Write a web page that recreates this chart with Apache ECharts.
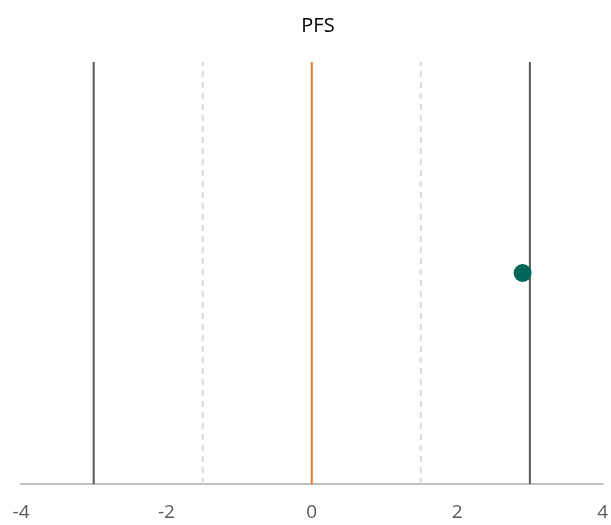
<!DOCTYPE html>
<html><head><meta charset="utf-8">
<script src="https://cdn.jsdelivr.net/npm/echarts@6/dist/echarts.min.js"></script>
<style>html,body{margin:0;padding:0;background:#fff}#c{width:611px;height:525px}</style>
</head><body><div id="c"></div>
<script>
const title = 'PFS';
const xTicks = [-4, -2, 0, 2, 4];
const outerLines = [-3, 3];
const innerLines = [-1.5, 1.5];
const centerLine = [0];
const pointX = [2.9];
const pointY = [0.5];

function vline(x){ return [[x,0],[x,1]]; }
const series = [];
outerLines.forEach(x=>series.push({type:'line',data:vline(x),symbol:'none',silent:true,lineStyle:{color:'#595959',width:2}}));
innerLines.forEach(x=>series.push({type:'line',data:vline(x),symbol:'none',silent:true,lineStyle:{color:'#d9d9d9',width:2,type:[6,5]}}));
centerLine.forEach(x=>series.push({type:'line',data:vline(x),symbol:'none',silent:true,lineStyle:{color:'#e6782a',width:2}}));
series.push({type:'scatter',data:pointX.map((x,i)=>[x,pointY[i]]),symbolSize:18,itemStyle:{color:'#00665a',opacity:1},z:10});

const chart = echarts.init(document.getElementById('c'));
chart.setOption({
  animation:false,
  title:{text:title,left:313,textAlign:'center',top:11,textStyle:{fontFamily:'Open Sans',fontSize:20,fontWeight:'normal',color:'#000'}},
  grid:{left:21,right:7,top:62,bottom:41},
  xAxis:{type:'value',min:-4,max:4,interval:2,
    axisLine:{show:true,onZero:false,lineStyle:{color:'#bfbfbf',width:2}},
    axisTick:{show:false},splitLine:{show:false},
    axisLabel:{fontFamily:'Open Sans',fontSize:19,color:'#595959',margin:19,
      formatter:v=>xTicks.includes(v)?String(v):''}},
  yAxis:{type:'value',min:0,max:1,show:false,splitLine:{show:false}},
  series:series
});
</script></body></html>
